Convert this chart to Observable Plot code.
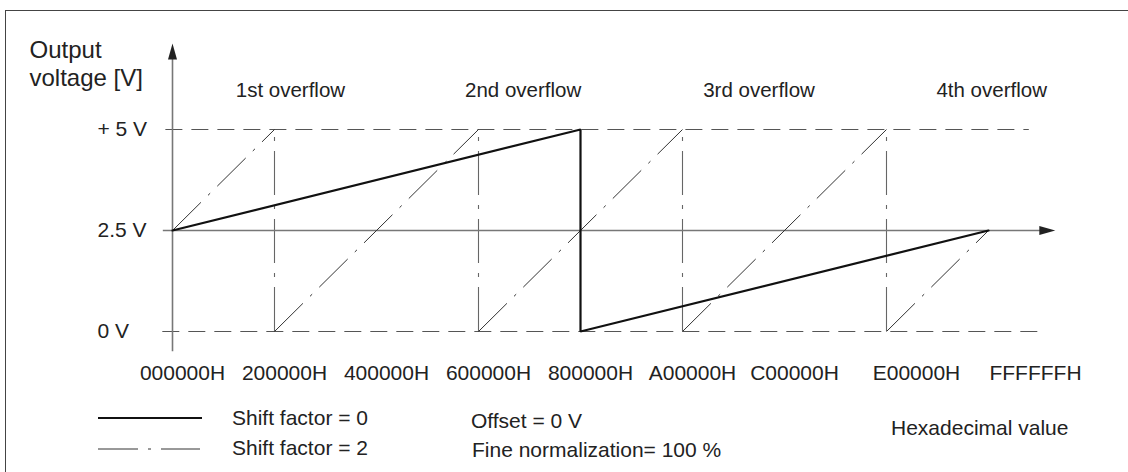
<!DOCTYPE html>
<html>
<head>
<meta charset="utf-8">
<script src="https://cdn.jsdelivr.net/npm/d3@7"></script>
<script src="https://cdn.jsdelivr.net/npm/@observablehq/plot@0.6"></script>
<style>
  body { margin: 0; background: #fff; font-family: "Liberation Sans", Arial, sans-serif; color: #222; }
  #wrap { position: relative; width: 1128px; height: 472px; overflow: hidden; background: #fff; }
  #border { position: absolute; left: 5px; top: 10px; width: 1140px; height: 480px;
            border-top: 1.5px solid #444; border-left: 1.5px solid #444; pointer-events: none; }
  #chart { position: absolute; left: 0; top: 0; }
  .lg { position: absolute; font-size: 21px; line-height: 21px; white-space: nowrap; color: #222; }
  #legendSvg { position: absolute; left: 0; top: 400px; }
</style>
</head>
<body>
<div id="wrap">
  <div id="chart"></div>
  <div id="legend"></div>
  <div id="border"></div>
</div>
<script>
// ---------------- data ----------------
const tickValues = [0x000000, 0x200000, 0x400000, 0x600000, 0x800000, 0xA00000, 0xC00000, 0xE00000, 0xFFFFFF];
const tickLabels = ["000000H", "200000H", "400000H", "600000H", "800000H", "A00000H", "C00000H", "E00000H", "FFFFFFH"];
const voltLevels = [5, 2.5, 0];
const voltLabels = ["+ 5 V", "2.5 V", "0 V"];
const overflowLabels = ["1st overflow", "2nd overflow", "3rd overflow", "4th overflow"];
const overflowLabelX = [0x250000, 0x6E0000, 0xB80000, 0x1010000];
// Shift factor = 0 (solid)
const shift0X = [0x000000, 0x800000, 0x800000, 0xFFFFFF];
const shift0V = [2.5, 5, 0, 2.5];
// Shift factor = 2 (dash-dot)
const shift2X = [0x000000, 0x200000, 0x200000, 0x600000, 0x600000, 0xA00000, 0xA00000, 0xE00000, 0xE00000, 0xFFFFFF];
const shift2V = [2.5, 5, 0, 5, 0, 5, 0, 5, 0, 2.5];
const legendLabels = ["Shift factor = 0", "Shift factor = 2"];
const noteLabels = ["Offset = 0 V", "Fine normalization= 100 %"];
const xAxisTitle = "Hexadecimal value";
const yAxisTitle = ["Output", "voltage [V]"];

// ---------------- derived tables ----------------
const solidPts = shift0X.map((x, i) => ({x, v: shift0V[i]}));
const ramps = [], overflowRules = [];
for (let i = 0; i < shift2X.length - 1; i++) {
  if (shift2X[i] !== shift2X[i + 1]) ramps.push({x1: shift2X[i], y1: shift2V[i], x2: shift2X[i + 1], y2: shift2V[i + 1]});
  else overflowRules.push(shift2X[i]);
}
const ticks = tickValues.map((x, i) => ({x, label: tickLabels[i]}));
const volts = voltLevels.map((v, i) => ({v, label: voltLabels[i]}));
const overflows = overflowLabels.map((label, i) => ({x: overflowLabelX[i], label}));

// axis extents (data units)
const U = 0x100000;
const xAxisStart = -0.18 * U, xAxisTip = 17.31 * U;
const yAxisBottom = -0.5, yAxisTip = 7.13;

// custom filled arrowhead symbol (tip at origin, pointing up)
const arrowHead = {
  draw(ctx) {
    ctx.moveTo(0, 0);
    ctx.lineTo(-4.5, 16);
    ctx.lineTo(4.5, 16);
    ctx.closePath();
  }
};

const txt = {fill: "#222", lineAnchor: "middle"};

const plot = Plot.plot({
  width: 1128,
  height: 400,
  marginLeft: 172,
  marginRight: 140,
  marginTop: 129,
  marginBottom: 69,
  x: {domain: [0, 0x1000000], axis: null},
  y: {domain: [0, 5], axis: null},
  style: {fontSize: "21px", fontFamily: "Liberation Sans, Arial, sans-serif", color: "#222", background: "transparent", overflow: "visible"},
  marks: [
    // dashed reference levels
    Plot.ruleY([5], {x1: -0.13 * U, x2: 16.8 * U, stroke: "#555", strokeWidth: 1.1, strokeDasharray: "17,9"}),
    Plot.ruleY([0], {x1: -0.19 * U, x2: 17.06 * U, stroke: "#555", strokeWidth: 1.1, strokeDasharray: "17,9"}),
    // overflow verticals (dash-dot)
    Plot.ruleX(overflowRules, {y1: 0, y2: 5, stroke: "#666", strokeWidth: 1.1, strokeDasharray: "44,10,4,10"}),
    // axes
    Plot.ruleY([2.5], {x1: xAxisStart, x2: xAxisTip - 0.2 * U, stroke: "#777", strokeWidth: 1.6}),
    Plot.ruleX([0], {y1: yAxisBottom, y2: yAxisTip - 0.3, stroke: "#777", strokeWidth: 1.6}),
    Plot.dot([0], {x: 0, y: yAxisTip, symbol: arrowHead, fill: "#222", stroke: "none"}),
    Plot.dot([0], {x: xAxisTip, y: 2.5, symbol: arrowHead, fill: "#222", stroke: "none", rotate: 90}),
    // shift factor 2 ramps
    Plot.link(ramps, {x1: "x1", y1: "y1", x2: "x2", y2: "y2", stroke: "#333", strokeWidth: 1, strokeDasharray: "40,10,3,10"}),
    // shift factor 0
    Plot.line(solidPts, {x: "x", y: "v", stroke: "#111", strokeWidth: 2.2, strokeLinejoin: "miter"}),
    // y tick labels
    Plot.text(volts, {...txt, y: "v", text: "label", frameAnchor: "left", textAnchor: "start", dx: -75}),
    // x tick labels
    Plot.text(ticks.slice(0, 7), {...txt, x: "x", text: "label", frameAnchor: "bottom", dy: 41.3, dx: 10}),
    Plot.text(ticks.slice(7, 8), {...txt, x: "x", text: "label", frameAnchor: "bottom", dy: 41.3, dx: 30}),
    Plot.text(ticks.slice(8), {...txt, x: "x", text: "label", frameAnchor: "bottom", dy: 41.3, dx: 47}),
    // overflow labels
    Plot.text(overflows, {...txt, x: "x", text: "label", frameAnchor: "top", dy: -38.7, fontSize: 20.5}),
    // y axis title
    Plot.text([yAxisTitle[0]], {...txt, frameAnchor: "top-left", textAnchor: "start", dx: -143, dy: -78.7, fontSize: 24}),
    Plot.text([yAxisTitle[1]], {...txt, frameAnchor: "top-left", textAnchor: "start", dx: -143, dy: -50.7, fontSize: 24})
  ]
});
document.getElementById("chart").appendChild(plot);

// ---------------- legend & notes (below the chart) ----------------
const legend = document.getElementById("legend");
const ns = "http://www.w3.org/2000/svg";
const lsvg = document.createElementNS(ns, "svg");
lsvg.setAttribute("id", "legendSvg");
lsvg.setAttribute("width", "260");
lsvg.setAttribute("height", "72");
const styles = [
  {stroke: "#111", width: 2.2, dash: null, y: 18, x2: 202},
  {stroke: "#333", width: 1, dash: "40,10,3,10", y: 49, x2: 200}
];
styles.forEach(s => {
  const l = document.createElementNS(ns, "line");
  l.setAttribute("x1", 98); l.setAttribute("x2", s.x2);
  l.setAttribute("y1", s.y); l.setAttribute("y2", s.y);
  l.setAttribute("stroke", s.stroke); l.setAttribute("stroke-width", s.width);
  if (s.dash) l.setAttribute("stroke-dasharray", s.dash);
  lsvg.appendChild(l);
});
legend.appendChild(lsvg);

function addText(t, left, top) {
  const d = document.createElement("div");
  d.className = "lg";
  d.style.left = left + "px";
  d.style.top = top + "px";
  d.textContent = t;
  legend.appendChild(d);
}
addText(legendLabels[0], 232, 407);
addText(legendLabels[1], 232, 437);
addText(noteLabels[0], 471, 410);
addText(noteLabels[1], 472, 439);
addText(xAxisTitle, 891, 417);
</script>
</body>
</html>
